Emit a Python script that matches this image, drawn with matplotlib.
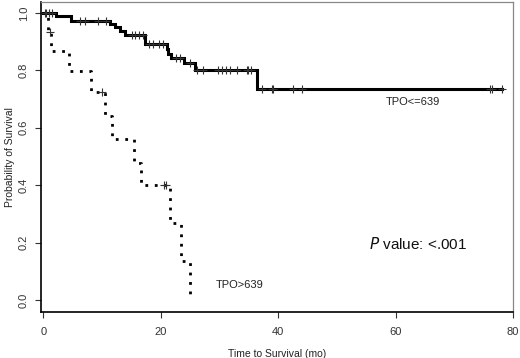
import matplotlib.pyplot as plt

plt.rcParams['font.family'] = ['Liberation Sans', 'DejaVu Sans']

# TPO <= 639 : step times and survival levels
low_times = [0, 2.1, 4.7, 11.3, 12.2, 13.0, 13.9, 17.3, 21.0, 21.3, 21.7, 24.0, 25.8, 36.3, 78.2]
low_surv = [1.0, 0.99, 0.974, 0.962, 0.950, 0.937, 0.925, 0.892, 0.875, 0.858, 0.843, 0.826, 0.800, 0.735, 0.735]
low_cens_t = [0.2, 0.5, 1.0, 1.5, 6.2, 7.1, 9.3, 10.7, 15.0, 15.6, 16.2, 16.9,
              17.9, 18.7, 19.6, 20.4, 22.6, 23.2, 25.0, 26.2, 27.2, 29.7, 30.4,
              31.1, 31.8, 32.9, 34.6, 34.9, 35.3, 37.2, 38.9, 39.1, 42.5, 44.0,
              76.1, 76.4, 78.2]

# TPO > 639
high_times = [0, 0.7, 1.2, 4.4, 8.1, 10.5, 11.7, 15.5, 16.6, 21.5, 23.5, 25.0]
high_surv = [1.0, 0.933, 0.867, 0.797, 0.725, 0.642, 0.561, 0.478, 0.401, 0.268, 0.136, 0.0]
high_cens_t = [1.1, 9.9, 20.5, 20.9]


def surv_at(t, times, surv):
    s = surv[0]
    for ti, si in zip(times, surv):
        if ti <= t:
            s = si
    return s


fig = plt.figure(figsize=(5.2, 3.58), dpi=100)
ax = fig.add_axes([0.078, 0.1285, 0.9085, 0.8655])

ax.step(low_times, low_surv, where='post', color='black', lw=2.2, solid_joinstyle='miter')
ax.step(high_times, high_surv, where='post', color='black', lw=2.0,
        linestyle=(0, (1, 2.4)))

ax.plot(low_cens_t, [surv_at(t, low_times, low_surv) for t in low_cens_t],
        linestyle='none', marker='+', ms=5.5, mew=0.8, color='#333333')
ax.plot(high_cens_t, [surv_at(t, high_times, high_surv) for t in high_cens_t],
        linestyle='none', marker='+', ms=5.5, mew=0.8, color='#333333')

ax.text(62.9, 0.691, 'TPO<=639', fontsize=8, ha='center', va='center', color='#222222')
ax.text(33.5, 0.052, 'TPO>639', fontsize=8, ha='center', va='center', color='#222222')
ax.text(63.8, 0.195, r'$\it{P}$ value: <.001', fontsize=11, ha='center', va='center',
        color='#111111')

ax.set_xlim(-0.5, 80)
ax.set_ylim(-0.042, 1.038)
ax.set_xticks([0, 20, 40, 60, 80])
ax.set_yticks([0.0, 0.2, 0.4, 0.6, 0.8, 1.0])
ax.set_yticklabels(['0.0', '0.2', '0.4', '0.6', '0.8', '1.0'], rotation=90, va='center')
ax.tick_params(labelsize=8, length=4.5, width=0.8, colors='#333333')
ax.tick_params(axis='x', pad=6)
ax.tick_params(axis='y', pad=4)
ax.set_xlabel('Time to Survival (mo)', fontsize=7.5, color='#222222', labelpad=9)
ax.set_ylabel('Probability of Survival', fontsize=7.5, color='#222222', labelpad=3)

for side in ['left', 'bottom']:
    ax.spines[side].set_color('black')
    ax.spines[side].set_linewidth(1.2)
for side in ['top', 'right']:
    ax.spines[side].set_color('#888888')
    ax.spines[side].set_linewidth(0.9)

fig.savefig('out.png', dpi=100)
